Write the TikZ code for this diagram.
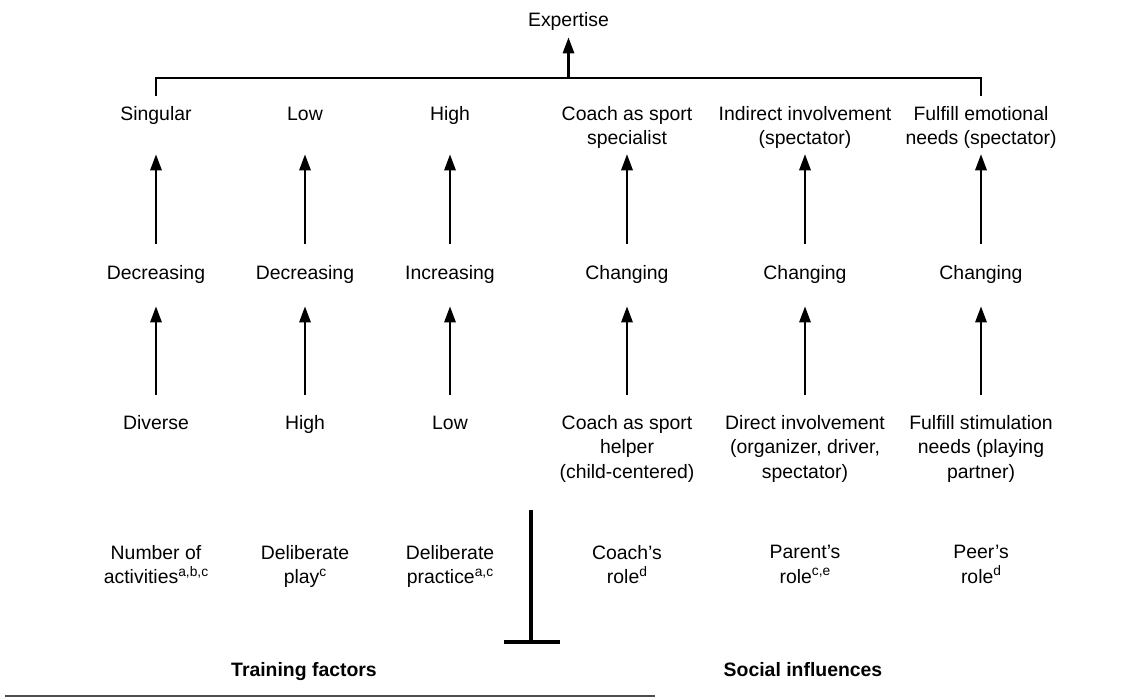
\documentclass[tikz,border=0pt]{standalone}
\usepackage{fontspec}
\setmainfont{Liberation Sans}
\usetikzlibrary{arrows.meta}

% raised note letters, a bit larger than \textsuperscript would give here
\newcommand{\fnm}[1]{\raisebox{5.2pt}{\fontsize{9.8pt}{9.8pt}\selectfont #1}}

\begin{document}
\begin{tikzpicture}[x=0.025cm, y=-0.025cm,
  lbl/.style     = {inner sep=0pt, align=center,
                    font=\fontsize{13.8pt}{17.4pt}\selectfont},
  toprow/.style  = {lbl, anchor=north},
  oneline/.style = {text height=10.1pt, text depth=20.3pt},   % ends where two lines do
  midrow/.style  = {lbl, anchor=base},
  group/.style   = {lbl, anchor=base, font=\fontsize{13.8pt}{17.4pt}\selectfont\bfseries},
  climb/.style   = {line width=1.8pt, -{Triangle[length=11.5pt,width=8pt]}},
  climbhigh/.style = {climb, shorten <=5.25mm, shorten >=1.25mm},
  climblow/.style  = {climb, shorten <=5mm, shorten >=5.75mm},
  bracket/.style = {line width=1.8pt},
  divider/.style = {line width=2.2pt},
  rule/.style    = {line width=1.5pt, black!70},
]
  \useasboundingbox (0,0) rectangle (1131,698);

  % columns: 156, 305, 450 | 627, 805, 981 ; y grows downwards (pixels)
  \node[midrow] (exp) at (568.5,26) {Expertise};

  \node[toprow,oneline] (sg) at (156,106) {Singular};
  \node[toprow,oneline] (lw) at (305,106) {Low};
  \node[toprow,oneline] (hg) at (450,106) {High};
  \node[toprow] (cs) at (627,106) {Coach as sport\\specialist};
  \node[toprow] (ii) at (805,106) {Indirect involvement\\(spectator)};
  \node[toprow] (fe) at (981,106) {Fulfill emotional\\needs (spectator)};

  \node[midrow] (dec1) at (156,279) {Decreasing};
  \node[midrow] (dec2) at (305,279) {Decreasing};
  \node[midrow] (inc)  at (450,279) {Increasing};
  \node[midrow] (chg1) at (627,279) {Changing};
  \node[midrow] (chg2) at (805,279) {Changing};
  \node[midrow] (chg3) at (981,279) {Changing};

  \node[toprow,oneline] (div) at (156,415) {Diverse};
  \node[toprow,oneline] (hi)  at (305,415) {High};
  \node[toprow,oneline] (lo)  at (450,415) {Low};
  \node[toprow] (ch)  at (627,415) {Coach as sport\\helper\\(child-centered)};
  \node[toprow] (di)  at (805,415) {Direct involvement\\(organizer, driver,\\spectator)};
  \node[toprow] (fs)  at (981,415) {Fulfill stimulation\\needs (playing\\partner)};

  \node[toprow] (noa) at (156,545) {Number of\\activities\fnm{a,b,c}};
  \node[toprow] (dpl) at (305,545) {Deliberate\\play\fnm{c}};
  \node[toprow] (dpr) at (450,545) {Deliberate\\practice\fnm{a,c}};
  \node[toprow] (cr)  at (627,545) {Coach’s\\role\fnm{d}};
  \node[toprow] (pr)  at (805,545) {Parent’s\\role\fnm{c,e}};
  \node[toprow] (per) at (981,545) {Peer’s\\role\fnm{d}};

  \node[group] (train)  at (304,676) {Training factors};
  \node[group] (social) at (803,676) {Social influences};

  % the top row joins into expertise
  \coordinate (bar) at (568.5,78);
  \draw[bracket] ([yshift=2.5mm]sg.north) |- (bar) -| ([yshift=2.5mm]fe.north);
  \draw[climb, shorten >=1.75mm] (bar) -- (exp.south);

  \draw[climbhigh] (dec1.north) -- (sg.south);
  \draw[climbhigh] (dec2.north) -- (lw.south);
  \draw[climbhigh] (inc.north) -- (hg.south);
  \draw[climbhigh] (chg1.north) -- (cs.south);
  \draw[climbhigh] (chg2.north) -- (ii.south);
  \draw[climbhigh] (chg3.north) -- (fe.south);

  \draw[climblow] (div.north) -- (dec1.south);
  \draw[climblow] (hi.north) -- (dec2.south);
  \draw[climblow] (lo.north) -- (inc.south);
  \draw[climblow] (ch.north) -- (chg1.south);
  \draw[climblow] (di.north) -- (chg2.south);
  \draw[climblow] (fs.north) -- (chg3.south);

  % divider between the two groups, and the table rule
  \draw[divider] (531,510) -- (531,642) (504,642) -- (560,642);
  \draw[rule] (5,696) -- (655,696);
\end{tikzpicture}
\end{document}
